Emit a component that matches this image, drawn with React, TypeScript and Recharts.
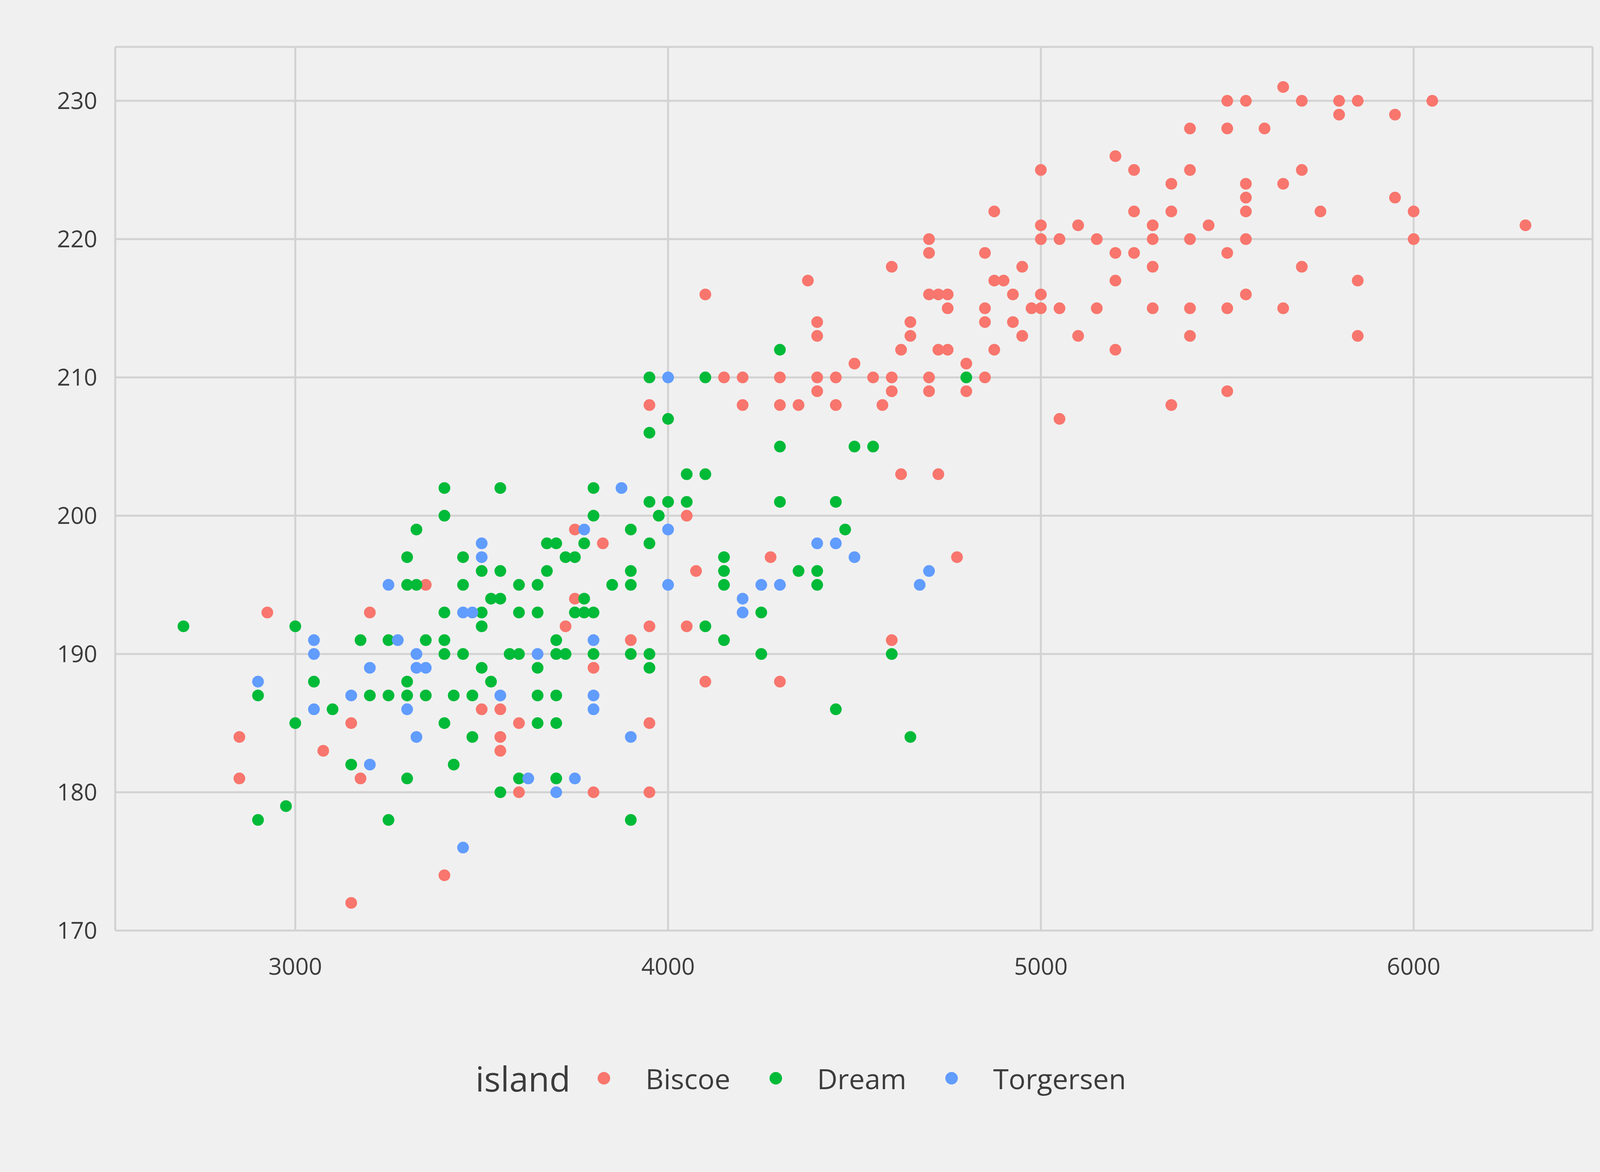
import { ScatterChart, Scatter, XAxis, YAxis, CartesianGrid } from "recharts";

const ISLANDS = ["Biscoe", "Dream", "Torgersen"];
const COLORS = ["#F8766D", "#00BA38", "#619CFF"];

// [body mass (g), flipper length (mm)]
const biscoe: [number, number][] = [
  [5650,231],[5500,230],[5550,230],[5700,230],[5800,230],[5850,230],[6050,230],[5800,229],[5950,229],
  [5500,228],[5400,228],[5600,228],[5000,225],[5250,225],[5400,225],[5700,225],[5200,226],[5350,224],
  [5550,224],[5650,224],[5550,223],[5950,223],[4875,222],[5250,222],[5350,222],[5550,222],[5750,222],
  [6000,222],[5000,221],[5100,221],[5300,221],[5450,221],[6300,221],[4700,220],[5000,220],[5050,220],
  [5150,220],[5300,220],[5400,220],[5550,220],[6000,220],[4700,219],[4850,219],[5200,219],[5250,219],
  [5500,219],[4600,218],[4950,218],[5300,218],[5700,218],[4375,217],[4875,217],[4900,217],[5200,217],
  [5850,217],[4700,216],[4725,216],[4750,216],[4925,216],[5000,216],[5550,216],[4100,216],[4750,215],
  [4850,215],[4975,215],[5000,215],[5050,215],[5150,215],[5300,215],[5400,215],[5500,215],[5650,215],
  [4400,214],[4650,214],[4850,214],[4925,214],[4400,213],[4650,213],[4950,213],[5100,213],[5400,213],
  [5850,213],[4625,212],[4725,212],[4750,212],[4875,212],[5200,212],[4500,211],[4800,211],[4150,210],
  [4200,210],[4300,210],[4400,210],[4450,210],[4550,210],[4600,210],[4700,210],[4850,210],[4400,209],
  [4600,209],[4700,209],[4800,209],[5500,209],[3950,208],[4200,208],[4300,208],[4350,208],[4450,208],
  [4575,208],[5350,208],[5050,207],[4625,203],[4725,203],[4050,200],[3750,199],[3825,198],[4275,197],
  [4775,197],[4075,196],[3350,195],[3750,194],[2925,193],[3200,193],[3725,192],[3950,192],[4050,192],
  [3900,191],[4600,191],[3800,189],[2850,184],[2850,181],[4100,188],[4300,188],[3075,183],[3150,185],
  [3175,181],[3500,186],[3550,186],[3550,184],[3550,183],[3600,185],[3950,185],[3600,180],[3800,180],
  [3950,180],[3150,172],[3400,174],
];

const dream: [number, number][] = [
  [2700,192],[2900,187],[2900,178],[2975,179],[3000,192],[3000,185],[3050,188],[3100,186],[3150,182],
  [3175,191],[3200,187],[3250,191],[3250,187],[3250,178],[3300,197],[3300,195],[3325,195],[3325,199],
  [3300,188],[3300,187],[3300,181],[3350,191],[3350,187],[3400,202],[3400,200],[3400,193],[3400,191],
  [3400,190],[3400,185],[3425,187],[3425,182],[3450,197],[3450,195],[3450,190],[3475,187],[3475,184],
  [3500,196],[3500,193],[3500,192],[3500,189],[3525,194],[3525,188],[3550,202],[3550,196],[3550,194],
  [3550,180],[3575,190],[3600,195],[3600,193],[3600,190],[3600,181],[3650,195],[3650,193],[3650,189],
  [3650,187],[3650,185],[3675,196],[3675,198],[3700,198],[3700,191],[3700,190],[3700,187],[3700,185],
  [3700,181],[3725,197],[3725,190],[3750,197],[3750,193],[3775,198],[3775,194],[3775,193],[3800,202],
  [3800,200],[3800,193],[3800,190],[3850,195],[3900,199],[3900,196],[3900,195],[3900,190],[3900,178],
  [3950,210],[3950,206],[3950,201],[3950,198],[3950,190],[3950,189],[3975,200],[4000,207],[4000,201],
  [4050,203],[4050,201],[4100,210],[4100,203],[4100,192],[4150,197],[4150,196],[4150,195],[4150,191],
  [4250,193],[4250,190],[4300,212],[4300,205],[4300,201],[4350,196],[4400,196],[4400,195],[4450,201],
  [4450,186],[4475,199],[4500,205],[4550,205],[4600,190],[4650,184],[4800,210],
];

const torgersen: [number, number][] = [
  [2900,188],[3050,191],[3050,190],[3050,186],[3150,187],[3200,189],[3200,182],[3250,195],[3275,191],
  [3300,186],[3325,190],[3325,189],[3325,184],[3350,189],[3450,193],[3450,176],[3475,193],[3500,198],
  [3500,197],[3550,187],[3625,181],[3650,190],[3700,180],[3750,181],[3775,199],[3800,191],[3800,187],
  [3800,186],[3875,202],[3900,184],[4000,210],[4000,199],[4000,195],[4200,194],[4200,193],[4250,195],
  [4300,195],[4400,198],[4450,198],[4500,197],[4675,195],[4700,196],
];

const X_TICKS = [3000, 4000, 5000, 6000];
const Y_TICKS = [170, 180, 190, 200, 210, 220, 230];

const toPts = (arr: [number, number][]) => arr.map(([x, y]) => ({ x, y }));
const SERIES = [toPts(biscoe), toPts(dream), toPts(torgersen)];

const FONT = "'Open Sans', 'DejaVu Sans', sans-serif";
const tick = { fill: "#3C3C3C", fontSize: 60, fontFamily: FONT };

export default function App() {
  return (
    <div style={{ position: "absolute", left: 0, top: 0, width: 4200, height: 3000, background: "#F0F0F0" }}>
      <ScatterChart width={4200} height={3000} margin={{ top: 120, right: 123, bottom: 470, left: 0 }}>
        <CartesianGrid stroke="#D2D2D2" strokeWidth={5} />
        <XAxis
          type="number"
          dataKey="x"
          domain={[2517, 6480]}
          ticks={X_TICKS}
          allowDataOverflow
          axisLine={false}
          tickLine={false}
          tickSize={0}
          tickMargin={70}
          height={148}
          tick={tick}
        />
        <YAxis
          type="number"
          dataKey="y"
          domain={[170, 233.9]}
          ticks={Y_TICKS}
          allowDataOverflow
          axisLine={false}
          tickLine={false}
          tickSize={0}
          tickMargin={46}
          width={295}
          tick={tick}
        />
        {SERIES.map((d, i) => (
          <Scatter
            key={ISLANDS[i]}
            name={ISLANDS[i]}
            data={d}
            fill={COLORS[i]}
            isAnimationActive={false}
            shape={(p: any) => <circle cx={p.cx} cy={p.cy} r={15} fill={COLORS[i]} />}
          />
        ))}
      </ScatterChart>
      {/* Legend */}
      <div
        style={{
          position: "absolute",
          top: 2700,
          left: 0,
          width: 4200,
          display: "flex",
          justifyContent: "center",
          alignItems: "center",
          fontFamily: FONT,
          color: "#3C3C3C",
        }}
      >
        <span style={{ fontSize: 88, marginRight: 70 }}>island</span>
        {ISLANDS.map((name, i) => (
          <span key={name} style={{ display: "flex", alignItems: "center", marginRight: 100 }}>
            <span style={{ width: 32, height: 32, borderRadius: 16, background: COLORS[i], marginRight: 90 }} />
            <span style={{ fontSize: 72 }}>{name}</span>
          </span>
        ))}
      </div>
    </div>
  );
}
